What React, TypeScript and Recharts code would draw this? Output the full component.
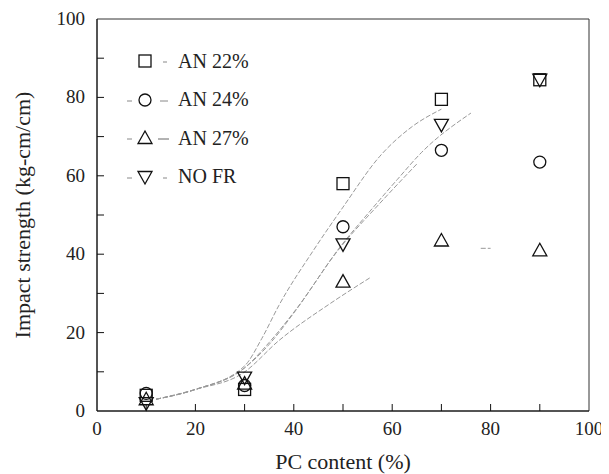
import React from 'react'
import { ComposedChart, Scatter, Line, XAxis, YAxis, ReferenceArea } from 'recharts'

// measured points
const pcContent = [10, 30, 50, 70, 90]
const an22 = [4, 5.5, 58, 79.5, 84.5]
const an24 = [4.5, 6.5, 47, 66.5, 63.5]
const an27 = [3, 7, 33, 43.5, 41]
const noFr = [2, 8.5, 42.5, 73, 84.5]

// fitted curves
const fit22X = [12, 20, 30, 33.5, 37, 44, 50, 57.5, 64, 70]
const fit22Y = [3, 5.5, 11.5, 18.5, 27, 41, 52, 65, 72.5, 77]
const fitFrX = [12, 20, 30, 35, 40.5, 49.5, 55.5, 61, 66, 76]
const fitFrY = [3, 5.5, 11, 17.5, 26, 42, 51, 59, 66, 76]
const fit24X = [12, 20, 30, 35, 40, 49, 57.5, 65]
const fit24Y = [3, 5.5, 11, 17, 25, 41, 53, 63]
const fit27X = [12, 20, 29.7, 37, 47.5, 55.5]
const fit27Y = [3, 5.5, 9.7, 18, 27.5, 34]
const dash27X = [78, 80]
const dash27Y = [41.5, 41.5]

const xTicks = [0, 10, 20, 30, 40, 50, 60, 70, 80, 90, 100]
const yTicks = [0, 10, 20, 30, 40, 50, 60, 70, 80, 90, 100]

const legendItems = [
  { name: 'AN 22%', shape: 'square', pre: false, post: 'short' },
  { name: 'AN 24%', shape: 'circle', pre: true, post: 'mid' },
  { name: 'AN 27%', shape: 'tri', pre: true, post: 'long' },
  { name: 'NO FR', shape: 'down', pre: true, post: 'short' },
]

const toPts = (xs: number[], ys: number[]) => xs.map((x, i) => ({ x, y: ys[i] }))

const FONT = 'serif'

const Marker = ({ cx, cy, shape }: any) => {
  const s = 6
  if (shape === 'square')
    return <rect x={cx - s} y={cy - s} width={s * 2} height={s * 2} fill="none" stroke="#111" strokeWidth={1.3} />
  if (shape === 'circle') return <circle cx={cx} cy={cy} r={s} fill="none" stroke="#111" strokeWidth={1.3} />
  if (shape === 'tri')
    return <polygon points={`${cx - 7},${cy + 5.5} ${cx + 7},${cy + 5.5} ${cx},${cy - 7}`} fill="none" stroke="#111" strokeWidth={1.3} />
  return <polygon points={`${cx - 7},${cy - 5.5} ${cx + 7},${cy - 5.5} ${cx},${cy + 7}`} fill="none" stroke="#111" strokeWidth={1.3} />
}

const XTick = ({ x, y, payload }: any) => {
  const v = payload.value
  const base = y - 7
  return (
    <g>
      {v > 0 && v < 100 && <line x1={x} x2={x} y1={base} y2={base - 7} stroke="#111" />}
      {v % 20 === 0 && (
        <text x={x} y={base + 24} textAnchor="middle" fontSize={19} fontFamily={FONT} fill="#222">
          {v}
        </text>
      )}
    </g>
  )
}

const YTick = ({ x, y, payload }: any) => {
  const v = payload.value
  const base = x + 12
  return (
    <g>
      {v > 0 && v < 100 && <line x1={base} x2={base + 7} y1={y} y2={y} stroke="#111" />}
      {v % 20 === 0 && (
        <text x={x} y={y + 6} textAnchor="end" fontSize={19} fontFamily={FONT} fill="#222">
          {v}
        </text>
      )}
    </g>
  )
}

const LegendBox = () => (
  <div style={{ position: 'absolute', top: 34, left: 112, fontFamily: FONT, fontSize: 20, color: '#222' }}>
    {legendItems.map((it) => (
      <div key={it.name} style={{ display: 'flex', alignItems: 'center', height: 38.5 }}>
        <svg width={58} height={30} style={{ display: 'block' }}>
          {it.pre && <line x1={7} x2={12} y1={16} y2={16} stroke="#888" />}
          <Marker cx={25} cy={15} shape={it.shape} />
          {it.post === 'short' && <line x1={43} x2={47} y1={16} y2={16} stroke="#888" />}
          {it.post === 'mid' && <line x1={40} x2={48} y1={16} y2={16} stroke="#888" />}
          {it.post === 'long' && <line x1={38} x2={49} y1={16} y2={16} stroke="#666" />}
        </svg>
        <span>{it.name}</span>
      </div>
    ))}
  </div>
)

const curveStyle = { stroke: '#999', strokeWidth: 1, strokeDasharray: '5 2' }

export default function App() {
  return (
    <div style={{ position: 'relative', width: 600, height: 466 }}>
      <ComposedChart width={600} height={466} margin={{ top: 11, right: 19, bottom: 5, left: 5 }}>
        <XAxis
          dataKey="x"
          type="number"
          domain={[0, 100]}
          ticks={xTicks}
          interval={0}
          tickSize={0}
          tickMargin={7}
          tickLine={false}
          tick={<XTick />}
          axisLine={{ stroke: '#111' }}
          height={58}
          label={{ value: 'PC content (%)', position: 'insideBottom', offset: 0, fontSize: 22, fontFamily: FONT, fill: '#222' }}
        />
        <YAxis
          type="number"
          domain={[0, 100]}
          ticks={yTicks}
          interval={0}
          tickSize={0}
          tickMargin={12}
          tickLine={false}
          tick={<YTick />}
          axisLine={{ stroke: '#111' }}
          width={84}
          label={{
            value: 'Impact strength (kg-cm/cm)',
            angle: -90,
            position: 'insideLeft',
            offset: 9,
            fontSize: 22,
            fontFamily: FONT,
            fill: '#222',
            style: { textAnchor: 'middle' },
          }}
        />
        <ReferenceArea x1={0} x2={100} y1={0} y2={100} fill="none" stroke="#333" strokeWidth={1} />
        <Line data={toPts(fit22X, fit22Y)} dataKey="y" type="monotone" dot={false} isAnimationActive={false} {...curveStyle} />
        <Line data={toPts(fitFrX, fitFrY)} dataKey="y" type="monotone" dot={false} isAnimationActive={false} {...curveStyle} />
        <Line data={toPts(fit24X, fit24Y)} dataKey="y" type="monotone" dot={false} isAnimationActive={false} {...curveStyle} />
        <Line data={toPts(fit27X, fit27Y)} dataKey="y" type="monotone" dot={false} isAnimationActive={false} {...curveStyle} />
        <Line data={toPts(dash27X, dash27Y)} dataKey="y" type="linear" dot={false} isAnimationActive={false} {...curveStyle} />
        <Scatter name="AN 22%" data={toPts(pcContent, an22)} dataKey="y" isAnimationActive={false} shape={(p: any) => <Marker cx={p.cx} cy={p.cy} shape="square" />} />
        <Scatter name="AN 24%" data={toPts(pcContent, an24)} dataKey="y" isAnimationActive={false} shape={(p: any) => <Marker cx={p.cx} cy={p.cy} shape="circle" />} />
        <Scatter name="AN 27%" data={toPts(pcContent, an27)} dataKey="y" isAnimationActive={false} shape={(p: any) => <Marker cx={p.cx} cy={p.cy} shape="tri" />} />
        <Scatter name="NO FR" data={toPts(pcContent, noFr)} dataKey="y" isAnimationActive={false} shape={(p: any) => <Marker cx={p.cx} cy={p.cy} shape="down" />} />
      </ComposedChart>
      <LegendBox />
    </div>
  )
}
